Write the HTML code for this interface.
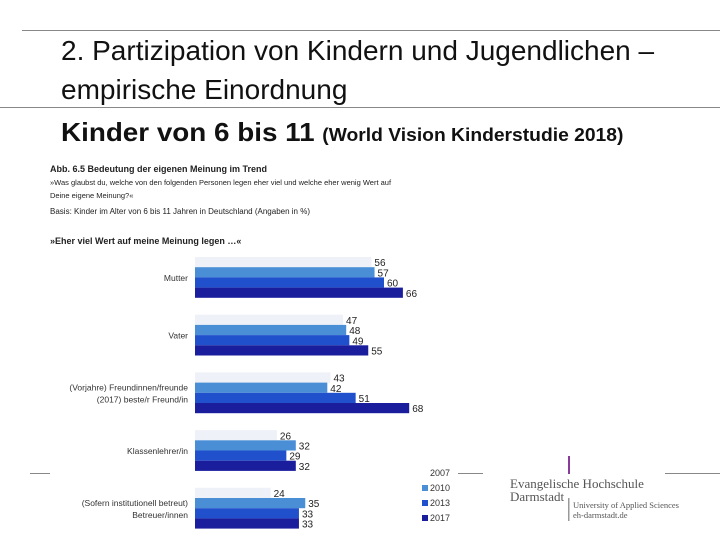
<!DOCTYPE html>
<html><head><meta charset="utf-8"><style>
body{margin:0;width:720px;height:540px;background:#fff;position:relative;overflow:hidden;font-family:"Liberation Sans",sans-serif}
.t{position:absolute;white-space:nowrap;color:#111;line-height:1}
.hl{position:absolute;height:1px;background:#888}
</style></head><body>
<div class="hl" style="left:22px;top:30px;width:698px"></div>
<div class="t" style="left:61px;top:37px;font-size:28px">2. Partizipation von Kindern und Jugendlichen –</div>
<div class="t" style="left:61px;top:76px;font-size:28px">empirische Einordnung</div>
<div class="hl" style="left:0;top:107px;width:720px"></div>
<div class="t" style="left:61px;top:119px;font-size:26px;font-weight:bold;transform-origin:0 0;transform:scaleX(1.07)">Kinder von 6 bis 11 <span style="font-size:18px">(World Vision Kinderstudie 2018)</span></div>
<div class="hl" style="left:30px;top:473px;width:20px"></div>
<div class="hl" style="left:458px;top:473px;width:25px"></div>
<div class="hl" style="left:665px;top:473px;width:55px"></div>
<svg id="ch" width="720" height="540" style="position:absolute;left:0;top:0" font-family="Liberation Sans, sans-serif"></svg>
<script>
const categories=[["Mutter"],["Vater"],["(Vorjahre) Freundinnen/freunde","(2017) beste/r Freund/in"],["Klassenlehrer/in"],["(Sofern institutionell betreut)","Betreuer/innen"]];
const years=["2007","2010","2013","2017"];
const v2007=[56,47,43,26,24];
const v2010=[57,48,42,32,35];
const v2013=[60,49,51,29,33];
const v2017=[66,55,68,32,33];
const series=[v2007,v2010,v2013,v2017];
const colors=["#eef1f7","#4a8fd6","#2150cc","#1a1e9c"];
const svg=document.getElementById('ch');
const NS="http://www.w3.org/2000/svg";
const x0=195,k=3.15,y0=257,gap=57.7,bh=10.2;
const xs=v=>x0+v*k;
function mk(t,a){const e=document.createElementNS(NS,t);for(const n in a)e.setAttribute(n,a[n]);svg.appendChild(e);return e;}
const hdr=[["Abb. 6.5   Bedeutung der eigenen Meinung im Trend",50,172,9,"bold"],["»Was glaubst du, welche von den folgenden Personen legen eher viel und welche eher wenig Wert auf",50,185,7.5,"normal"],["Deine eigene Meinung?«",50,198,7.5,"normal"],["Basis: Kinder im Alter von 6 bis 11 Jahren in Deutschland (Angaben in %)",50,214,8,"normal"],["»Eher viel Wert auf meine Meinung legen …«",50,244,9,"bold"]];
hdr.forEach(h=>{const e=mk('text',{x:h[1],y:h[2],'font-size':h[3],'font-weight':h[4],fill:'#222'});e.textContent=h[0];

});
categories.forEach((c,i)=>{
 const gy=y0+i*gap;
 c.forEach((l,j)=>{const t=mk('text',{x:188,y:gy+24-(c.length-1)*6+j*12,'text-anchor':'end','font-size':8.5,fill:'#333'});t.textContent=l;
 
 });
 series.forEach((s,si)=>{
  const y=gy+si*bh;
  const r=mk('rect',{x:x0,y:y,width:xs(s[i])-x0,height:bh,fill:colors[si]});
  
  
  const t=mk('text',{x:xs(s[i])+3,y:y+bh-1,'font-size':10,fill:'#222'});t.textContent=s[i];
  
  
 });
});
years.forEach((yr,i)=>{
 const y=476+i*15;
 if(i>0){const r=mk('rect',{x:422,y:y-6,width:6,height:6,fill:colors[i]});
 
 }
 const t=mk('text',{x:430,y:y,'font-size':9,fill:'#333'});t.textContent=yr;
 
 
});
const bar=mk('rect',{x:568,y:456,width:2,height:18,fill:'#8a3a9a'});


const vb=mk('rect',{x:568,y:498,width:1.5,height:23,fill:'#999'});


[["Evangelische Hochschule",510,488,13,"Liberation Serif, serif"],["Darmstadt",510,501,13,"Liberation Serif, serif"],["University of Applied Sciences",573,508,8.5,"Liberation Serif, serif"],["eh-darmstadt.de",573,518,8.5,"Liberation Serif, serif"]].forEach(l=>{
 const t=mk('text',{x:l[1],y:l[2],'font-size':l[3],'font-family':l[4],fill:'#555'});t.textContent=l[0];
 
 
});
</script>
</body></html>
